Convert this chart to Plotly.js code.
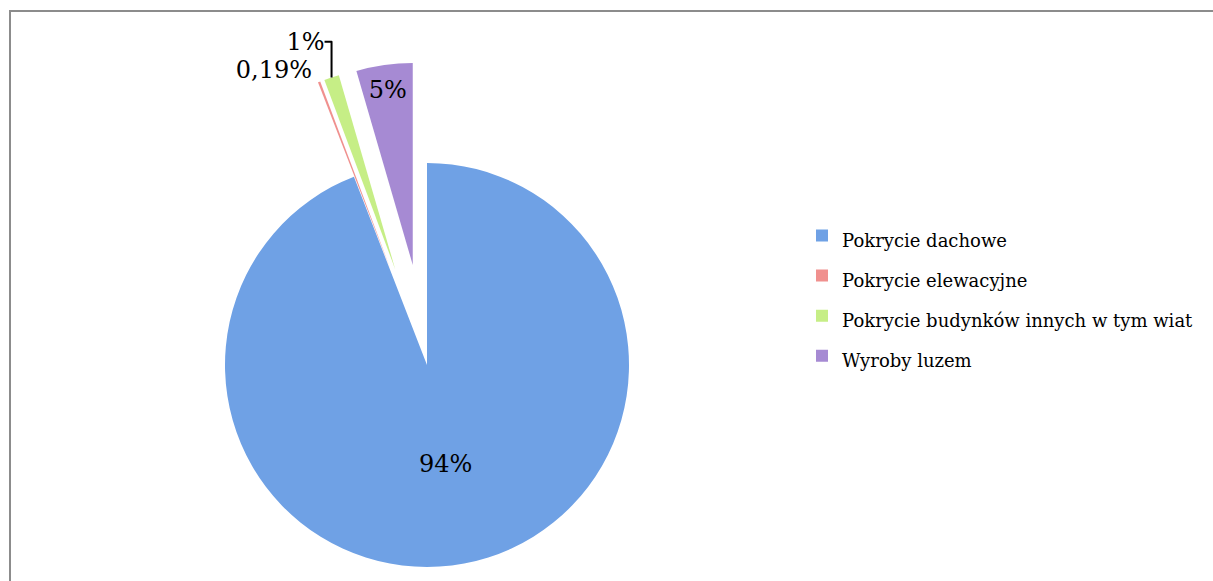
<!DOCTYPE html>
<html>
<head>
<meta charset="utf-8">
<script src="https://cdn.plot.ly/plotly-3.0.1.min.js"></script>
<style>
  html, body { margin: 0; padding: 0; overflow: hidden; background: #ffffff; }
  #chart { width: 1240px; height: 700px; }
</style>
</head>
<body>
<div id="chart"></div>
<script>
// Data
var categories = [
  'Pokrycie dachowe',
  'Pokrycie elewacyjne',
  'Pokrycie budynków innych w tym wiat',
  'Wyroby luzem'
];
var shares = [94.1, 0.19, 1.2, 4.5];
var valueLabels = ['94%', '0,19%', '1%', '5%'];

var sliceColors = ['#6fa1e5', '#f0908e', '#c6ee86', '#a68ad3'];

var W = 1240, H = 700;
var LEGEND_SIZE = 18;

var trace = {
  type: 'pie',
  labels: categories.map(function (c) {
    return '<span style="font-size:' + LEGEND_SIZE + 'px">' + c + '</span>';
  }),
  values: shares,
  text: valueLabels,
  textinfo: 'text',
  textposition: ['inside', 'outside', 'outside', 'inside'],
  insidetextorientation: 'horizontal',
  textfont: { family: 'DejaVu Serif', size: 24, color: '#000000' },
  outsidetextfont: { family: 'DejaVu Serif', size: 24, color: '#000000' },
  sort: false,
  direction: 'clockwise',
  rotation: 0,
  pull: [0, 0.5, 0.5, 0.5],
  marker: { colors: sliceColors, line: { width: 0 } },
  domain: { x: [124 / W, 730 / W], y: [1 - 668 / H, 1 - 62 / H] },
  hoverinfo: 'label+percent',
  automargin: false
};

var layout = {
  width: W,
  height: H,
  margin: { l: 0, r: 0, t: 0, b: 0 },
  paper_bgcolor: '#ffffff',
  showlegend: true,
  legend: {
    x: 802 / W,
    xanchor: 'left',
    y: 1 - 296 / H,
    yanchor: 'middle',
    font: { family: 'DejaVu Serif', size: 28.5, color: '#000000' },
    itemclick: false
  },
  shapes: [{
    type: 'rect', xref: 'paper', yref: 'paper',
    x0: 10 / W, x1: 1235 / W, y0: 5 / H, y1: 1 - 11 / H,
    line: { color: '#8c8c8c', width: 2 }
  }]
};

Plotly.newPlot('chart', [trace], layout, { displayModeBar: false, staticPlot: true });
</script>
</body>
</html>
